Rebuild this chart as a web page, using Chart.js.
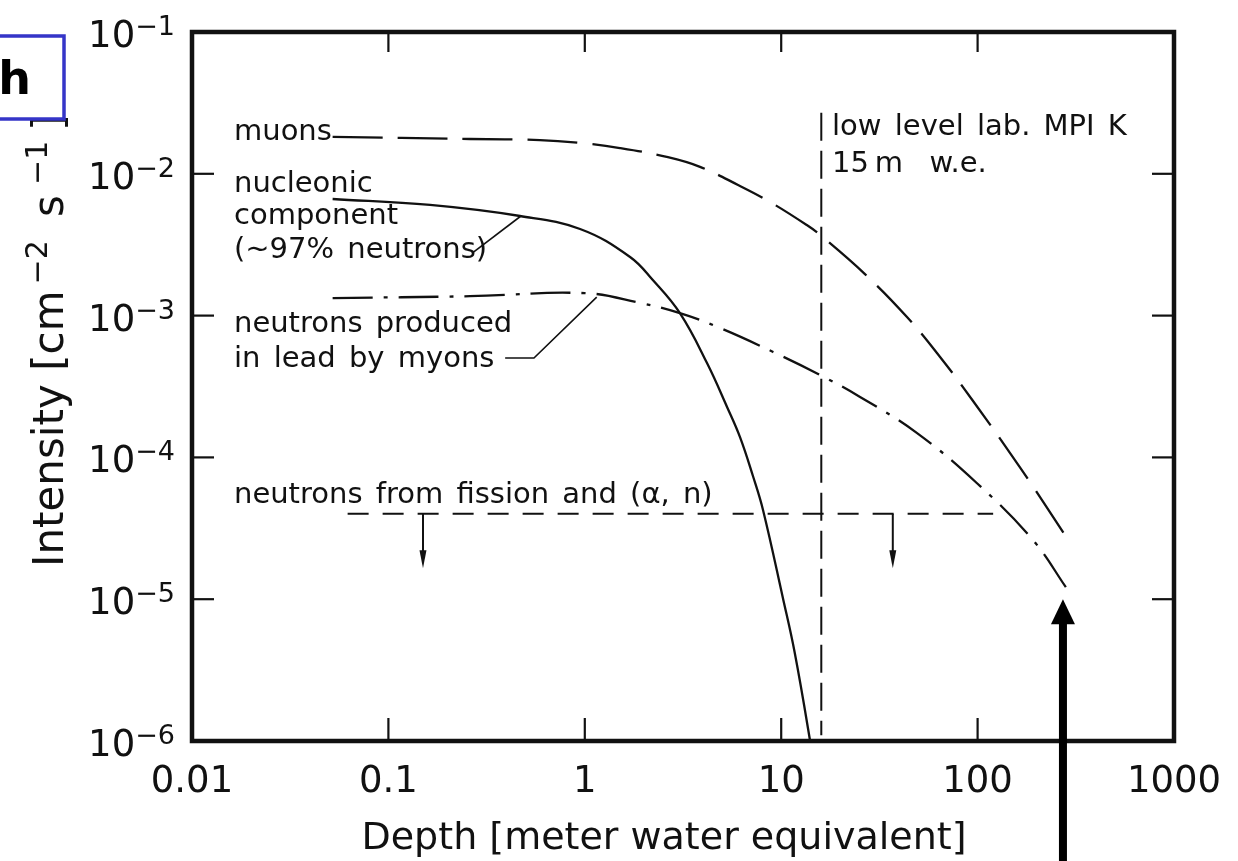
<!DOCTYPE html>
<html>
<head>
<meta charset="utf-8">
<script src="https://cdn.jsdelivr.net/npm/chart.js@4.4.1/dist/chart.umd.min.js"></script>
<style>
  html, body { margin: 0; padding: 0; background: #fff; }
  #wrap { width: 1238px; height: 861px; position: relative; }
</style>
</head>
<body>
<div id="wrap"><canvas id="chart"></canvas></div>
<script>
// depth in meter water equivalent, intensity in cm^-2 s^-1
const muonDepth = [0.052, 0.26, 0.59, 0.95, 1.51, 2.65, 3.86, 6.03, 8.77, 13.5, 15.8, 26.7, 43.7, 64.4, 94, 164, 285];
const muonFlux = [0.0182, 0.0176, 0.0173, 0.0165, 0.0152, 0.0131, 0.0112, 0.00834, 0.00633, 0.00435, 0.0037, 0.00196, 0.000977, 0.000511, 0.000254, 0.0000855, 0.000027];

const nucleonDepth = [0.052, 0.163, 0.468, 0.946, 1.7, 2.22, 3.05, 4.19, 5.3, 6.17, 7.18, 8.08, 10.2, 11.7, 14.0, 14.4];
const nucleonFlux = [0.00664, 0.00603, 0.00504, 0.00408, 0.00259, 0.00178, 0.00104, 0.000463, 0.000227, 0.000139, 0.0000739, 0.0000426, 0.0000102, 0.00000424, 0.00000102, 0.00000075];

const leadDepth = [0.052, 0.26, 1.0, 1.91, 3.05, 4.88, 9.1, 15.8, 25.2, 49, 99, 191, 288];
const leadFlux = [0.00133, 0.00137, 0.00144, 0.00123, 0.00104, 0.000818, 0.000554, 0.000381, 0.000267, 0.000149, 0.000066, 0.0000262, 0.0000116];

const fissionDepth = [0.062, 120];
const fissionFlux = [0.00004, 0.00004];
const fissionArrowDepth = [0.15, 37];
const fissionArrowTip = 0.0000165;

const labDepth = [16, 16];
const labFlux = [0.027, 0.0000011];

const nucleonLeaderDepth = [0.473, 0.267];
const nucleonLeaderFlux = [0.00504, 0.00276];
const leadLeaderDepth = [1.15, 0.551, 0.393];
const leadLeaderFlux = [0.00135, 0.000502, 0.000502];

const bigArrowDepth = 272;
const bigArrowTip = 0.00001;

const xTickValues = [0.01, 0.1, 1, 10, 100, 1000];
const xTickLabels = ['0.01', '0.1', '1', '10', '100', '1000'];
const yTickValues = [0.1, 0.01, 0.001, 0.0001, 0.00001, 0.000001];
const yTickExponents = ['\u22121', '\u22122', '\u22123', '\u22124', '\u22125', '\u22126'];

const FONT = '"DejaVu Sans", "Liberation Sans", sans-serif';
const INK = '#111';

function pts(xs, ys) {
  return xs.map((v, i) => ({x: v, y: ys[i]}));
}

function seg(ctx, x1, y1, x2, y2) {
  ctx.beginPath();
  ctx.moveTo(x1, y1);
  ctx.lineTo(x2, y2);
  ctx.stroke();
}

const decor = {
  id: 'decor',
  afterDraw(chart) {
    const {ctx, chartArea: a, scales: {x, y}} = chart;
    ctx.save();
    ctx.strokeStyle = INK;
    ctx.fillStyle = INK;

    // frame
    ctx.lineWidth = 4.5;
    ctx.strokeRect(a.left, a.top, a.right - a.left, a.bottom - a.top);

    // inner ticks
    ctx.lineWidth = 2.2;
    xTickValues.forEach(v => {
      const px = x.getPixelForValue(v);
      if (px < a.left + 5 || px > a.right - 5) return;
      seg(ctx, px, a.top, px, a.top + 20);
      seg(ctx, px, a.bottom, px, a.bottom - 23);
    });
    yTickValues.forEach(v => {
      const py = y.getPixelForValue(v);
      if (py < a.top + 5 || py > a.bottom - 5) return;
      seg(ctx, a.left, py, a.left + 22, py);
      seg(ctx, a.right, py, a.right - 22, py);
    });

    // x tick labels
    ctx.font = '37px ' + FONT;
    ctx.textAlign = 'center';
    ctx.textBaseline = 'alphabetic';
    xTickValues.forEach((v, i) => {
      ctx.fillText(xTickLabels[i], x.getPixelForValue(v), 792);
    });

    // y tick labels 10^-n
    ctx.textAlign = 'left';
    yTickValues.forEach((v, i) => {
      const py = y.getPixelForValue(v);
      ctx.font = '37px ' + FONT;
      const wb = ctx.measureText('10').width;
      ctx.font = '27px ' + FONT;
      const we = ctx.measureText(yTickExponents[i]).width;
      const x0 = 175 - we - wb;
      ctx.font = '37px ' + FONT;
      ctx.fillText('10', x0, py + 15);
      ctx.font = '27px ' + FONT;
      ctx.fillText(yTickExponents[i], x0 + wb, py + 3);
    });

    // axis titles
    ctx.font = '38px ' + FONT;
    ctx.textAlign = 'center';
    ctx.fillText('Depth [meter water equivalent]', (a.left + a.right) / 2 - 19, 849);

    ctx.save();
    ctx.translate(63, 567);
    ctx.rotate(-Math.PI / 2);
    ctx.textAlign = 'left';
    let cx = 0;
    const parts = [['Intensity [cm', 42, 0, 6], ['\u22122', 30, -16, 10], [' s', 42, 0, 10], ['\u22121', 30, -16, 10], [']', 42, 0, 0]];
    parts.forEach(([t, size, dy, gap]) => {
      ctx.font = size + 'px ' + FONT;
      ctx.fillText(t, cx, dy);
      cx += ctx.measureText(t).width + gap;
    });
    ctx.restore();

    // curve annotations
    ctx.font = '29px ' + FONT;
    ctx.textAlign = 'left';
    if ('wordSpacing' in ctx) ctx.wordSpacing = '4px';
    ctx.fillText('muons', 234, 140);
    ctx.fillText('nucleonic', 234, 192);
    ctx.fillText('component', 234, 224);
    ctx.fillText('(~97% neutrons)', 234, 258);
    ctx.fillText('neutrons produced', 234, 332);
    ctx.fillText('in lead by myons', 234, 367);
    ctx.fillText('neutrons from fission and (\u03b1, n)', 234, 503);
    ctx.fillText('low level lab. MPI K', 832, 135);
    ctx.fillText('15\u2009m  w.e.', 832, 172);
    if ('wordSpacing' in ctx) ctx.wordSpacing = '0px';

    // upper-limit arrows on the fission line
    ctx.lineWidth = 2;
    fissionArrowDepth.forEach(d => {
      const px = x.getPixelForValue(d);
      const top = y.getPixelForValue(fissionFlux[0]);
      const tip = y.getPixelForValue(fissionArrowTip);
      seg(ctx, px, top, px, tip - 12);
      ctx.beginPath();
      ctx.moveTo(px - 3.5, tip - 18);
      ctx.lineTo(px + 3.5, tip - 18);
      ctx.lineTo(px, tip);
      ctx.closePath();
      ctx.fill();
    });

    // big marker arrow
    const bx = x.getPixelForValue(bigArrowDepth);
    const bt = y.getPixelForValue(bigArrowTip);
    ctx.fillStyle = '#000';
    ctx.fillRect(bx - 4, bt + 22, 8, chart.height - bt - 22);
    ctx.beginPath();
    ctx.moveTo(bx - 12, bt + 25);
    ctx.lineTo(bx + 12, bt + 25);
    ctx.lineTo(bx, bt);
    ctx.closePath();
    ctx.fill();

    // cut-off blue box in the corner
    ctx.strokeStyle = '#3535c8';
    ctx.lineWidth = 3.5;
    ctx.strokeRect(-5, 36, 69, 83);
    ctx.fillStyle = '#000';
    ctx.font = 'bold 46px ' + FONT;
    ctx.textAlign = 'right';
    ctx.fillText('th', 31, 94);

    ctx.restore();
  }
};

const thin = {borderColor: INK, borderWidth: 1.6, pointRadius: 0, tension: 0};

new Chart(document.getElementById('chart'), {
  type: 'line',
  data: {
    datasets: [
      {label: 'muons', data: pts(muonDepth, muonFlux), borderColor: INK, borderWidth: 2.3,
        borderDash: [50, 15], pointRadius: 0, tension: 0.4},
      {label: 'nucleonic component', data: pts(nucleonDepth, nucleonFlux), borderColor: INK, borderWidth: 2.3,
        pointRadius: 0, tension: 0.4},
      {label: 'neutrons produced in lead by myons', data: pts(leadDepth, leadFlux), borderColor: INK, borderWidth: 2.3,
        borderDash: [40, 11, 4, 11], pointRadius: 0, tension: 0.4},
      {label: 'neutrons from fission', data: pts(fissionDepth, fissionFlux), borderColor: INK, borderWidth: 2,
        borderDash: [21, 14], pointRadius: 0},
      {label: 'low level lab', data: pts(labDepth, labFlux), borderColor: INK, borderWidth: 2,
        borderDash: [28, 10], pointRadius: 0},
      Object.assign({label: 'leader 1', data: pts(nucleonLeaderDepth, nucleonLeaderFlux)}, thin),
      Object.assign({label: 'leader 2', data: pts(leadLeaderDepth, leadLeaderFlux)}, thin)
    ]
  },
  options: {
    responsive: true,
    maintainAspectRatio: false,
    animation: false,
    layout: {padding: {left: 192, top: 32, right: 64, bottom: 120}},
    plugins: {legend: {display: false}, tooltip: {enabled: false}},
    scales: {
      x: {type: 'logarithmic', min: 0.01, max: 1000, display: false},
      y: {type: 'logarithmic', min: 0.000001, max: 0.1, display: false}
    }
  },
  plugins: [decor]
});
</script>
</body>
</html>
